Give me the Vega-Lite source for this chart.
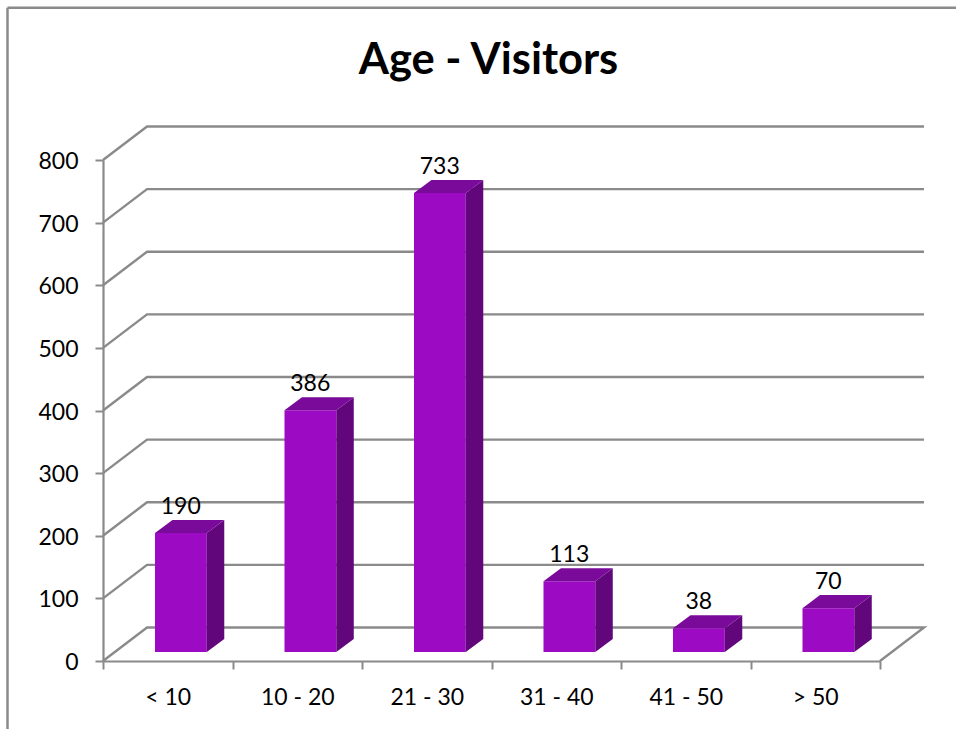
{
"$schema":"https://vega.github.io/schema/vega-lite/v6.json",
"autosize":"none",
"padding":{"left":103,"top":160,"right":76,"bottom":68},
"width":777,"height":501,
"background":"white",
"config":{"view":{"stroke":null},"font":"Lato",
 "axisY":{"labelFont":"Lato","labelFontSize":23,"labelColor":"#000000","labelPadding":17,"labelOffset":1.5,"tickSize":8,"tickWidth":2,"tickColor":"#8A8A8A","domainWidth":2.2,"domainColor":"#8A8A8A","grid":false}},
"title":{"text":"Age - Visitors","font":"Lato","fontSize":43.5,"fontWeight":"bold","color":"#000000","anchor":"middle","offset":-77,"dx":-3},
"data":{"values":[
{"age":"< 10","visitors":190},
{"age":"10 - 20","visitors":386},
{"age":"21 - 30","visitors":733},
{"age":"31 - 40","visitors":113},
{"age":"41 - 50","visitors":38},
{"age":"> 50","visitors":70}]},
"resolve":{"scale":{"x":"independent"}},
"layer":[
{"data":{"values":[{"edge":"left"}]},
 "mark":{"type":"rule","stroke":"#8A8A8A","strokeWidth":2.5},
 "encoding":{
  "x":{"datum":-0.7375,"type":"quantitative","scale":{"domain":[0,6],"nice":false,"zero":false},"axis":null},
  "y":{"datum":-110,"type":"quantitative","scale":{"domain":[0,800],"nice":false},"axis":{"title":null,"values":[0,100,200,300,400,500,600,700,800]}},
  "y2":{"datum":1043}}},
{"data":{"values":[{"edge":"top"}]},
 "mark":{"type":"rule","stroke":"#8A8A8A","strokeWidth":2.5},
 "encoding":{
  "x":{"datum":-0.7375,"type":"quantitative","scale":{"domain":[0,6],"nice":false,"zero":false},"axis":null},
  "x2":{"datum":6.6},
  "y":{"datum":1043,"type":"quantitative","scale":{"domain":[0,800],"nice":false},"axis":{"title":null,"values":[0,100,200,300,400,500,600,700,800]}}}},
{"data":{"values":[{"level":0},{"level":100},{"level":200},{"level":300},{"level":400},{"level":500},{"level":600},{"level":700},{"level":800}]},
 "transform":[
  {"calculate":"datum.level==0?[0,1,2,3]:[0,1,2]","as":"corner"},
  {"flatten":["corner"]},
  {"calculate":"datum.corner==0?0:datum.corner==1?0.34:datum.corner==2?6.34:6","as":"gx"},
  {"calculate":"datum.level+((datum.corner==1||datum.corner==2)?53.5:0)","as":"gy"}],
 "mark":{"type":"line","stroke":"#8A8A8A","strokeWidth":2.4},
 "encoding":{
  "x":{"field":"gx","type":"quantitative","scale":{"domain":[0,6],"nice":false,"zero":false},"axis":null},
  "y":{"field":"gy","type":"quantitative","scale":{"domain":[0,800],"nice":false},"axis":{"title":null,"values":[0,100,200,300,400,500,600,700,800]}},
  "detail":{"field":"level"},
  "order":{"field":"corner"}}},
{"transform":[
  {"window":[{"op":"row_number","as":"n"}]},
  {"calculate":"datum.n-1+0.4015","as":"x0"},
  {"calculate":"datum.x0+0.4","as":"x1"},
  {"calculate":"datum.visitors+14.4","as":"top"}],
 "mark":{"type":"rect","fill":"#9C0BC3"},
 "encoding":{
  "x":{"field":"x0","type":"quantitative","scale":{"domain":[0,6],"nice":false,"zero":false},"axis":null},
  "x2":{"field":"x1"},
  "y":{"field":"top","type":"quantitative","scale":{"domain":[0,800],"nice":false},"axis":{"title":null,"values":[0,100,200,300,400,500,600,700,800]}},
  "y2":{"datum":14.4}}},
{"transform":[
  {"window":[{"op":"row_number","as":"n"}]},
  {"calculate":"[0,1]","as":"c"},
  {"flatten":["c"]},
  {"calculate":"datum.n-1+0.8015+datum.c*0.135","as":"sx"},
  {"calculate":"14.4+datum.c*20.8","as":"sy"},
  {"calculate":"datum.visitors+14.4+datum.c*20.8","as":"sy2"}],
 "mark":{"type":"area","fill":"#62067C","opacity":1},
 "encoding":{
  "x":{"field":"sx","type":"quantitative","scale":{"domain":[0,6],"nice":false,"zero":false},"axis":null},
  "y":{"field":"sy","type":"quantitative","scale":{"domain":[0,800],"nice":false},"axis":{"title":null,"values":[0,100,200,300,400,500,600,700,800]},"stack":null},
  "y2":{"field":"sy2"},
  "detail":{"field":"age"}}},
{"transform":[
  {"window":[{"op":"row_number","as":"n"}]},
  {"calculate":"[0,1,2,3]","as":"c"},
  {"flatten":["c"]},
  {"calculate":"datum.n-1+0.4015+(datum.c==1?0.135:datum.c==2?0.4:datum.c==3?0.535:0)","as":"tx"},
  {"calculate":"datum.visitors+14.4+(datum.c==3?20.8:0)","as":"ty"},
  {"calculate":"datum.visitors+14.4+(datum.c==0?0:20.8)","as":"ty2"}],
 "mark":{"type":"area","fill":"#7A0A99","opacity":1},
 "encoding":{
  "x":{"field":"tx","type":"quantitative","scale":{"domain":[0,6],"nice":false,"zero":false},"axis":null},
  "y":{"field":"ty","type":"quantitative","scale":{"domain":[0,800],"nice":false},"axis":{"title":null,"values":[0,100,200,300,400,500,600,700,800]},"stack":null},
  "y2":{"field":"ty2"},
  "detail":{"field":"age"}}},
{"mark":{"type":"text","font":"Lato","fontSize":23,"color":"#000000","dx":13,"dy":-28,"baseline":"alphabetic"},
 "encoding":{
  "x":{"field":"age","type":"nominal","scale":{"type":"band","padding":0,"domain":["< 10","10 - 20","21 - 30","31 - 40","41 - 50","> 50"]},
   "axis":{"title":null,"labelAngle":0,"labelFont":"Lato","labelFontSize":23,"labelColor":"#000000","labelPadding":17,"tickBand":"extent","tickSize":8,"tickWidth":2,"tickColor":"#8A8A8A","domainWidth":2.2,"domainColor":"#8A8A8A","grid":false}},
  "y":{"field":"visitors","type":"quantitative","scale":{"domain":[0,800],"nice":false},"axis":{"title":null,"values":[0,100,200,300,400,500,600,700,800]}},
  "text":{"field":"visitors","type":"quantitative"}}}
]}
